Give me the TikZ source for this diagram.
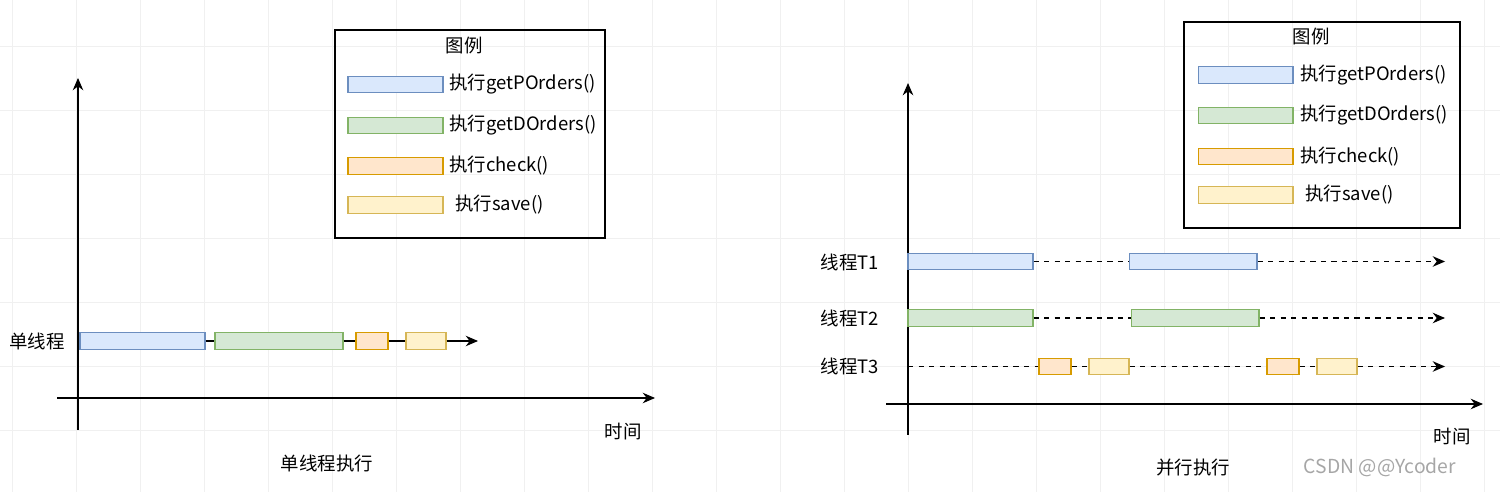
\documentclass[tikz,border=0pt]{standalone}
\usepackage{fontspec}
\setmainfont{Noto Sans CJK SC}
\usetikzlibrary{arrows.meta}
\definecolor{pfill}{HTML}{DAE8FC}\definecolor{pline}{HTML}{6C8EBF}
\definecolor{dfill}{HTML}{D5E8D4}\definecolor{dline}{HTML}{82B366}
\definecolor{cfill}{HTML}{FFE6CC}\definecolor{cline}{HTML}{D79B00}
\definecolor{sfill}{HTML}{FFF2CC}\definecolor{sline}{HTML}{D6B656}
\tikzset{
	bar/.style={rectangle, inner sep=0, minimum height=0.33cm, line width=0.6pt},
	pbar/.style={bar, fill=pfill, draw=pline},
	dbar/.style={bar, fill=dfill, draw=dline},
	cbar/.style={bar, fill=cfill, draw=cline},
	sbar/.style={bar, fill=sfill, draw=sline},
	lbl/.style={inner sep=0, font=\fontsize{10.5}{12}\selectfont},
	axis/.style={line width=0.7pt, -{Stealth[length=7pt,width=6pt]}},
	link/.style={line width=0.6pt},
	dlink/.style={line width=0.6pt, dash pattern=on 3pt off 3pt}
}
\begin{document}
\begin{tikzpicture}[x=0.02cm, y=-0.02cm]
	\useasboundingbox (0,0) rectangle (1500,492);
	% grid
	\foreach \gx in {12,76,...,1500} \draw[black!6] (\gx,0) -- (\gx,492);
	\foreach \gy in {46,110,...,492} \draw[black!6] (0,\gy) -- (1500,\gy);

	% ---- single thread ----
	\coordinate (ya0) at (78,430); \coordinate (ya1) at (78,78);
	\coordinate (xa0) at (57,398); \coordinate (xa1) at (655,398);
	\draw[axis] (ya0) -- (ya1);
	\draw[axis] (xa0) -- (xa1);
	\node[lbl] (time1) at (623,432) {时间};
	\node[lbl] (cap1) at (327,463) {单线程执行};
	\node[lbl] (single) at (37,341) {单线程};
	\node[pbar, minimum width=2.5cm] (s1) at (142.5,341) {};
	\node[dbar, minimum width=2.56cm] (s2) at (279,341) {};
	\node[cbar, minimum width=0.64cm] (s3) at (372,341) {};
	\node[sbar, minimum width=0.8cm] (s4) at (426,341) {};
	\coordinate (send) at (478,341);
	\draw[link] (s1) -- (s2);
	\draw[link] (s2) -- (s3);
	\draw[link] (s3) -- (s4);
	\draw[axis] (s4) -- (send);

	% legend left
	\draw[line width=0.6pt] (335,30) rectangle (605,238);
	\node[lbl] (lt1) at (464,46) {图例};
	\node[pbar, minimum width=1.9cm] (lp1) at (395.5,84.5) {};
	\node[dbar, minimum width=1.9cm] (ld1) at (395.5,125.5) {};
	\node[cbar, minimum width=1.9cm] (lc1) at (395.5,166) {};
	\node[sbar, minimum width=1.9cm] (ls1) at (395.5,205) {};
	\node[lbl, anchor=west] at (449,84.5) {执行getPOrders()};
	\node[lbl, anchor=west] at (449,125.5) {执行getDOrders()};
	\node[lbl, anchor=west] at (449,166) {执行check()};
	\node[lbl, anchor=west] at (455,205) {执行save()};

	% ---- parallel ----
	\coordinate (yb0) at (908,435); \coordinate (yb1) at (908,83);
	\coordinate (xb0) at (886,404); \coordinate (xb1) at (1483,404);
	\draw[axis] (yb0) -- (yb1);
	\draw[axis] (xb0) -- (xb1);
	\node[lbl] (time2) at (1452,437) {时间};
	\node[lbl] (cap2) at (1193,468) {并行执行};
	\node[lbl] (t1) at (850,262) {线程T1};
	\node[lbl] (t2) at (850,318) {线程T2};
	\node[lbl] (t3) at (850,366) {线程T3};
	% T1
	\node[pbar, minimum width=2.5cm] (a1) at (970.5,261.5) {};
	\node[pbar, minimum width=2.56cm] (a2) at (1193,261.5) {};
	\coordinate (aend) at (1445,261.5);
	\draw[dlink] (a1) -- (a2);
	\draw[dlink, axis] (a2) -- (aend);
	% T2
	\node[dbar, minimum width=2.5cm] (b1) at (970.5,318) {};
	\node[dbar, minimum width=2.56cm] (b2) at (1195,318) {};
	\coordinate (bend) at (1445,318);
	\draw[dlink] (b1) -- (b2);
	\draw[dlink, axis] (b2) -- (bend);
	% T3
	\coordinate (cstart) at (908,366.5);
	\node[cbar, minimum width=0.64cm] (c1) at (1055,366.5) {};
	\node[sbar, minimum width=0.8cm] (c2) at (1109,366.5) {};
	\node[cbar, minimum width=0.64cm] (c3) at (1283,366.5) {};
	\node[sbar, minimum width=0.8cm] (c4) at (1337,366.5) {};
	\coordinate (cend) at (1445,366.5);
	\draw[dlink] (cstart) -- (c1);
	\draw[dlink] (c1) -- (c2);
	\draw[dlink] (c2) -- (c3);
	\draw[dlink] (c3) -- (c4);
	\draw[dlink, axis] (c4) -- (cend);

	% legend right
	\draw[line width=0.6pt] (1184,22) rectangle (1460,228);
	\node[lbl] (lt2) at (1311,37) {图例};
	\node[pbar, minimum width=1.9cm] (lp2) at (1245.5,75) {};
	\node[dbar, minimum width=1.9cm] (ld2) at (1245.5,115.5) {};
	\node[cbar, minimum width=1.9cm] (lc2) at (1245.5,156.5) {};
	\node[sbar, minimum width=1.9cm] (ls2) at (1245.5,195) {};
	\node[lbl, anchor=west] at (1300,75) {执行getPOrders()};
	\node[lbl, anchor=west] at (1300,115.5) {执行getDOrders()};
	\node[lbl, anchor=west] at (1300,156.5) {执行check()};
	\node[lbl, anchor=west] at (1305,195) {执行save()};

	\node[lbl, text=black!35, font=\fontsize{11}{13}\selectfont] (mark) at (1380,467) {CSDN @@Ycoder};
\end{tikzpicture}
\end{document}
